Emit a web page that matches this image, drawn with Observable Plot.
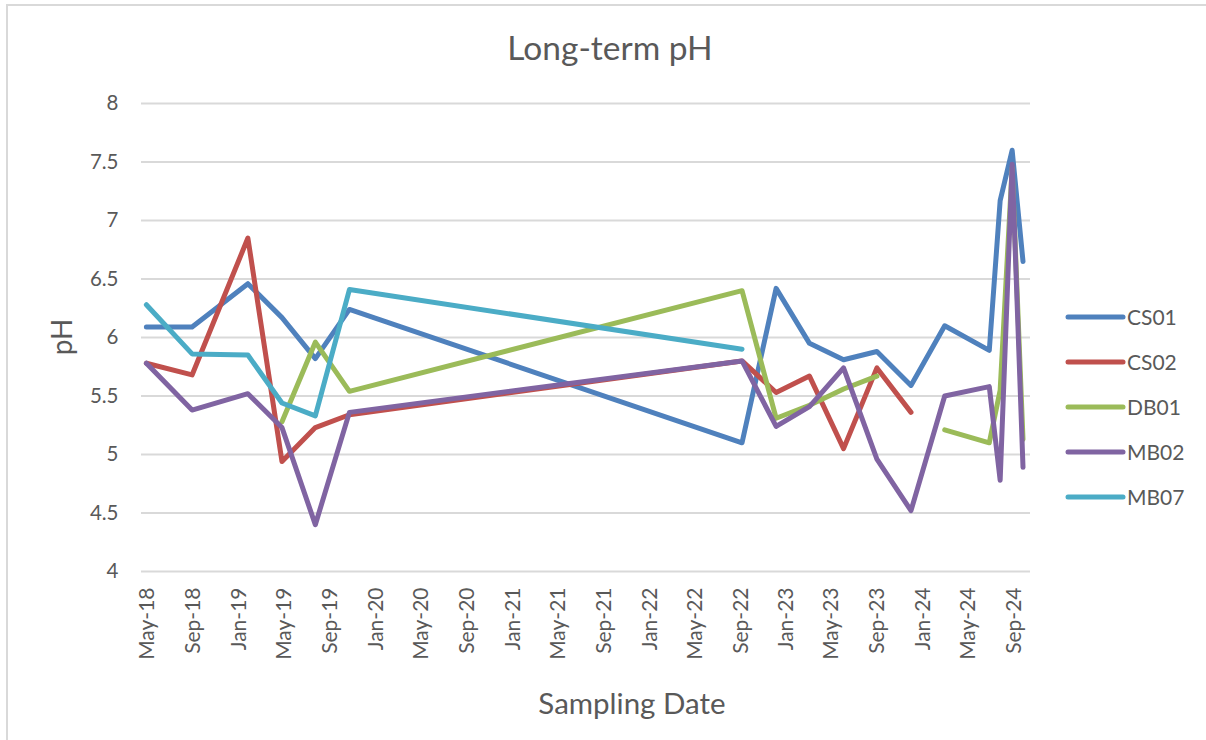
<!DOCTYPE html>
<html>
<head>
<meta charset="utf-8">
<script src="https://cdn.jsdelivr.net/npm/d3@7"></script>
<script src="https://cdn.jsdelivr.net/npm/@observablehq/plot@0.6"></script>
<style>
  html, body { margin: 0; padding: 0; background: #fff; }
  #chart { position: relative; width: 1206px; height: 740px; overflow: hidden; }
</style>
</head>
<body>
<div id="chart"></div>
<script>
// ---- data ----
const dates = ["2018-04-28","2018-08-28","2019-01-24","2019-04-25","2019-07-23","2019-10-22",
  "2022-09-04","2022-12-04","2023-03-03","2023-06-02","2023-08-30","2023-11-29",
  "2024-02-27","2024-06-25","2024-07-24","2024-08-25","2024-09-23"];
const seriesNames = ["CS01","CS02","DB01","MB02","MB07"];
const CS01 = [6.09,6.09,6.46,6.17,5.82,6.24,5.10,6.42,5.95,5.81,5.88,5.59,6.10,5.89,7.17,7.60,6.65];
const CS02 = [5.78,5.68,6.85,4.94,5.23,5.34,5.80,5.53,5.67,5.05,5.74,5.36,null,null,null,null,null];
const DB01 = [null,null,null,5.28,5.96,5.54,6.40,5.31,5.42,5.56,5.67,null,5.21,5.10,5.55,7.45,5.13];
const MB02 = [5.78,5.38,5.52,5.23,4.40,5.36,5.80,5.24,5.41,5.74,4.96,4.52,5.50,5.58,4.78,7.48,4.89];
const MB07 = [6.28,5.86,5.85,5.44,5.33,6.41,5.90,null,null,null,null,null,null,null,null,null,null];
const colors = ["#4F81BD","#C0504D","#9BBB59","#8064A2","#4BACC6"];
const yTicks = [4,4.5,5,5.5,6,6.5,7,7.5,8];
const xTickStart = "2018-05-01", xTickEnd = "2024-09-01";
const xDomain = ["2018-04-15","2024-10-13"];
const title = "Long-term pH", xLabel = "Sampling Date", yLabel = "pH";

// ---- build table ----
const values = {CS01, CS02, DB01, MB02, MB07};
const parse = d3.utcParse("%Y-%m-%d");
const rows = seriesNames.flatMap(s => dates.map((d, i) => ({series: s, date: parse(d), value: values[s][i]})));
const xTicks = d3.utcMonth.every(4).range(parse(xTickStart), d3.utcDay.offset(parse(xTickEnd), 1));

const W = 1206, H = 740;
const mL = 141, mR = 176, mT = 103, mB = 169;
const textColor = "#595959";
const font = "Lato, 'Open Sans', sans-serif";

const plot = Plot.plot({
  width: W, height: H,
  marginLeft: mL, marginRight: mR, marginTop: mT, marginBottom: mB,
  style: {fontFamily: font, fontSize: "20.5px", color: textColor, background: "transparent"},
  x: {type: "utc", domain: xDomain.map(parse)},
  y: {domain: [4, 8]},
  color: {domain: seriesNames, range: colors},
  marks: [
    Plot.gridY(yTicks, {stroke: "#d9d9d9", strokeOpacity: 1, strokeWidth: 2}),
    Plot.axisY(yTicks, {tickSize: 0, tickPadding: 23, label: null, fontSize: 20.5,
      tickFormat: d => String(d)}),
    Plot.axisX(xTicks, {tickSize: 0, tickPadding: 16, tickRotate: -90, label: null, fontSize: 21,
      tickFormat: d3.utcFormat("%b-%y")}),
    Plot.line(rows, {x: "date", y: "value", z: "series", stroke: "series",
      strokeWidth: 5, strokeLinejoin: "round", strokeLinecap: "round", curve: "linear"})
  ]
});

const chart = document.getElementById("chart");
chart.appendChild(plot);

// ---- annotations: title, axis titles, legend, border ----
const svg = d3.select(plot);
const ann = svg.append("g").attr("font-family", font).attr("fill", textColor);

// chart area border (top and left visible)
ann.append("path").attr("d", `M7,${H}V5H${W}`).attr("fill", "none")
  .attr("stroke", "#d9d9d9").attr("stroke-width", 2);

ann.append("text").attr("x", 610).attr("y", 60).attr("text-anchor", "middle")
  .attr("font-size", 33.5).text(title);
ann.append("text").attr("x", 632).attr("y", 714).attr("text-anchor", "middle")
  .attr("font-size", 29.5).text(xLabel);
ann.append("text").attr("transform", `translate(72,${(mT + H - mB) / 2}) rotate(-90)`)
  .attr("text-anchor", "middle").attr("font-size", 28).text(yLabel);

const leg = ann.append("g");
seriesNames.forEach((s, i) => {
  const cy = 317 + i * 45;
  leg.append("line").attr("x1", 1068).attr("x2", 1123).attr("y1", cy).attr("y2", cy)
    .attr("stroke", colors[i]).attr("stroke-width", 5).attr("stroke-linecap", "round");
  leg.append("text").attr("x", 1127).attr("y", cy).attr("dy", "0.36em")
    .attr("text-anchor", "start").attr("font-size", 21).text(s);
});
</script>
</body>
</html>
